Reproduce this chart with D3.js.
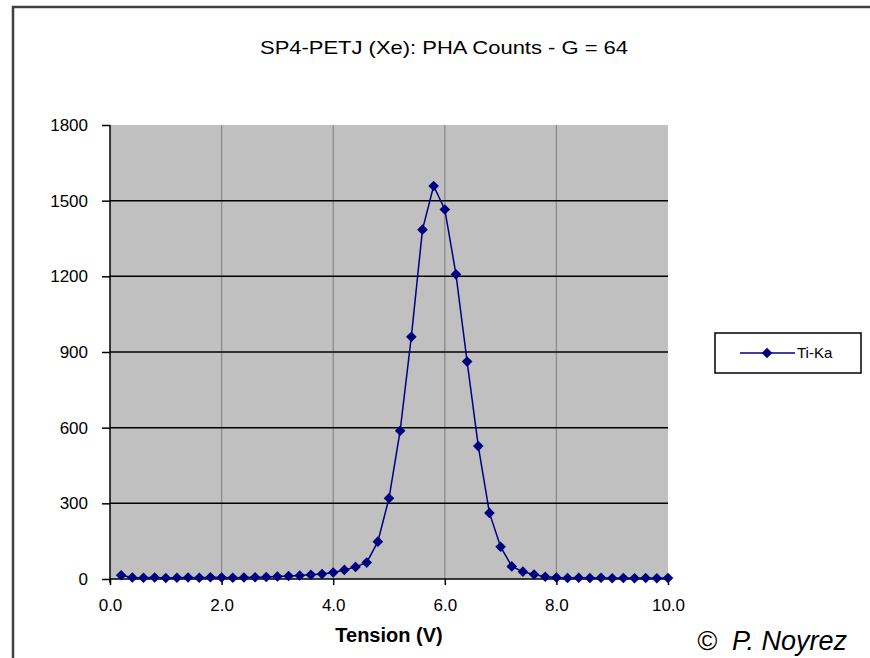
<!DOCTYPE html>
<html>
<head>
<meta charset="utf-8">
<script src="https://cdn.jsdelivr.net/npm/d3@7"></script>
<style>
  body { margin: 0; background: #fff; }
  svg { display: block; font-family: "Liberation Sans", Arial, sans-serif; }
</style>
</head>
<body>
<svg width="870" height="658"></svg>
<script>
const svg = d3.select('svg');
const width  = +svg.attr('width');
const height = +svg.attr('height');

// Data
const tension = [0.2, 0.4, 0.6, 0.8, 1.0, 1.2, 1.4, 1.6, 1.8, 2.0,
                 2.2, 2.4, 2.6, 2.8, 3.0, 3.2, 3.4, 3.6, 3.8, 4.0,
                 4.2, 4.4, 4.6, 4.8, 5.0, 5.2, 5.4, 5.6, 5.8, 6.0,
                 6.2, 6.4, 6.6, 6.8, 7.0, 7.2, 7.4, 7.6, 7.8, 8.0,
                 8.2, 8.4, 8.6, 8.8, 9.0, 9.2, 9.4, 9.6, 9.8, 10.0];
const counts  = [15, 6, 5, 6, 4, 5, 6, 5, 7, 6,
                 5, 6, 7, 8, 10, 12, 14, 17, 20, 26,
                 36, 48, 65, 148, 320, 588, 960, 1385, 1558, 1465,
                 1208, 862, 527, 262, 128, 50, 29, 18, 9, 6,
                 4, 5, 4, 5, 3, 4, 3, 4, 3, 4];
const xTicks = [0, 2, 4, 6, 8, 10];
const yTicks = [0, 300, 600, 900, 1200, 1500, 1800];
const seriesName = 'Ti-Ka';
const title = 'SP4-PETJ (Xe): PHA Counts - G = 64';
const xTitle = 'Tension (V)';
const credit = '\u00A9  P. Noyrez';

const margin = {top: 125, bottom: 79, left: 110, right: 202};
const innerWidth  = width - margin.left - margin.right;
const innerHeight = height - margin.top - margin.bottom;
const navy = '#000080';

// outer frame (runs off the right and bottom edge)
svg.append('rect')
  .attr('x', 13).attr('y', 7)
  .attr('width', width).attr('height', height)
  .attr('fill', 'none')
  .attr('stroke', '#404040')
  .attr('stroke-width', 2.5);

svg.append('text')
  .attr('x', 444).attr('y', 47)
  .attr('text-anchor', 'middle')
  .attr('dy', '0.35em')
  .attr('font-size', 19)
  .attr('textLength', 368)
  .attr('lengthAdjust', 'spacingAndGlyphs')
  .text(title);

const chart = svg.append('g')
  .attr('transform', `translate(${margin.left},${margin.top})`);

const xScale = d3.scaleLinear().domain([0, 10]).range([0, innerWidth]);
const yScale = d3.scaleLinear().domain([0, 1800]).range([innerHeight, 0]);

// plot area
chart.append('rect')
  .attr('width', innerWidth).attr('height', innerHeight)
  .attr('fill', '#c0c0c0');

// gridlines
chart.selectAll('.vgrid').data(xTicks.slice(1, -1))
  .enter().append('line')
    .attr('class', 'vgrid')
    .attr('x1', d => xScale(d)).attr('x2', d => xScale(d))
    .attr('y1', 0).attr('y2', innerHeight)
    .attr('stroke', '#8a8a8a').attr('stroke-width', 1.3);

chart.selectAll('.hgrid').data(yTicks.slice(1, -1))
  .enter().append('line')
    .attr('class', 'hgrid')
    .attr('x1', 0).attr('x2', innerWidth)
    .attr('y1', d => yScale(d)).attr('y2', d => yScale(d))
    .attr('stroke', '#000').attr('stroke-width', 1.5);

// axes
const xAxis = d3.axisBottom(xScale)
  .tickValues(xTicks)
  .tickSize(6).tickPadding(14)
  .tickFormat(d3.format('.1f'));
const yAxis = d3.axisLeft(yScale)
  .tickValues(yTicks)
  .tickSize(8).tickPadding(14)
  .tickFormat(d3.format('d'));

const xAxisG = chart.append('g')
  .attr('transform', `translate(0,${innerHeight})`)
  .call(xAxis);
const yAxisG = chart.append('g').call(yAxis);

[xAxisG, yAxisG].forEach(g => {
  g.select('.domain').attr('stroke', '#000').attr('stroke-width', 1.5);
  g.selectAll('.tick line').attr('stroke', '#000').attr('stroke-width', 1.5);
  g.selectAll('.tick text')
    .attr('font-family', '"Liberation Sans", Arial, sans-serif')
    .attr('font-size', 17).attr('fill', '#000');
});
xAxisG.select('.domain').attr('d', `M0,0H${innerWidth}`);
yAxisG.select('.domain').attr('d', `M0,0V${innerHeight + 4}`);

// series
const line = d3.line()
  .x((d, i) => xScale(tension[i]))
  .y(d => yScale(d));

chart.append('path')
  .datum(counts)
  .attr('fill', 'none')
  .attr('stroke', navy)
  .attr('stroke-width', 1.5)
  .attr('d', line);

const diamond = d3.symbol().type(d3.symbolDiamond2).size(72);
chart.selectAll('.pt').data(counts)
  .enter().append('path')
    .attr('class', 'pt')
    .attr('transform', (d, i) => `translate(${xScale(tension[i])},${yScale(d)})`)
    .attr('d', diamond)
    .attr('fill', navy);

// axis title
svg.append('text')
  .attr('x', margin.left + innerWidth / 2).attr('y', 642)
  .attr('text-anchor', 'middle')
  .attr('font-size', 20).attr('font-weight', 'bold')
  .text(xTitle);

// legend
const legend = svg.append('g').attr('transform', 'translate(715,333)');
legend.append('rect')
  .attr('width', 146).attr('height', 40)
  .attr('fill', '#fff').attr('stroke', '#000').attr('stroke-width', 1.5);
legend.append('line')
  .attr('x1', 25).attr('x2', 80).attr('y1', 20).attr('y2', 20)
  .attr('stroke', navy).attr('stroke-width', 1.5);
legend.append('path')
  .attr('transform', 'translate(52,20)')
  .attr('d', diamond).attr('fill', navy);
legend.append('text')
  .attr('x', 82).attr('y', 20).attr('dy', '0.35em')
  .attr('font-size', 15)
  .text(seriesName);

// credit
svg.append('text')
  .attr('x', 697).attr('y', 650)
  .attr('font-size', 27).attr('font-style', 'italic')
  .style('white-space', 'pre')
  .text(credit);
</script>
</body>
</html>
